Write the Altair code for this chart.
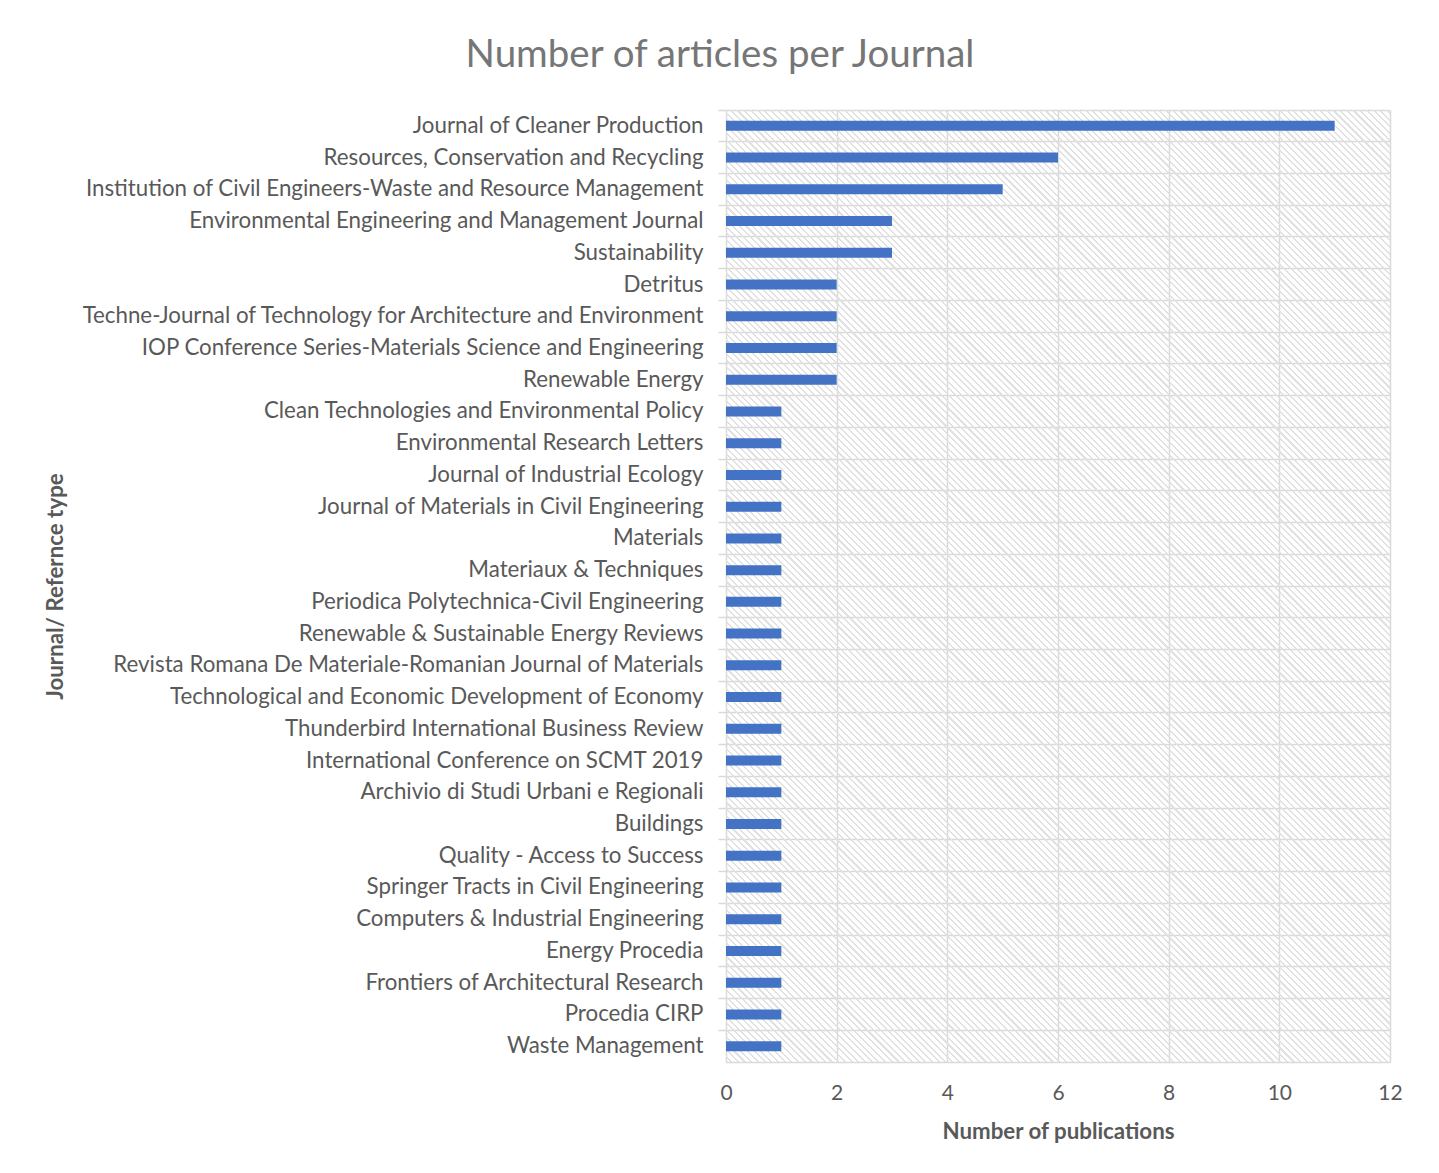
import altair as alt
import pandas as pd

journals = [
    "Journal of Cleaner Production",
    "Resources, Conservation and Recycling",
    "Institution of Civil Engineers-Waste and Resource Management",
    "Environmental Engineering and Management Journal",
    "Sustainability",
    "Detritus",
    "Techne-Journal of Technology for Architecture and Environment",
    "IOP Conference Series-Materials Science and Engineering",
    "Renewable Energy",
    "Clean Technologies and Environmental Policy",
    "Environmental Research Letters",
    "Journal of Industrial Ecology",
    "Journal of Materials in Civil Engineering",
    "Materials",
    "Materiaux & Techniques",
    "Periodica Polytechnica-Civil Engineering",
    "Renewable & Sustainable Energy Reviews",
    "Revista Romana De Materiale-Romanian Journal of Materials",
    "Technological and Economic Development of Economy",
    "Thunderbird International Business Review",
    "International Conference on SCMT 2019",
    "Archivio di Studi Urbani e Regionali",
    "Buildings",
    "Quality - Access to Success",
    "Springer Tracts in Civil Engineering",
    "Computers & Industrial Engineering",
    "Energy Procedia",
    "Frontiers of Architectural Research",
    "Procedia CIRP",
    "Waste Management",
]
publications = [11, 6, 5, 3, 3, 2, 2, 2, 2] + [1] * 21

x_ticks = [0, 2, 4, 6, 8, 10, 12]

df = pd.DataFrame({"journal": journals, "count": publications})

W, H = 664, 952

# diagonal hatch background built as a striped linear gradient
q = H / W
period_t = 0.0033
gray_frac = 0.32
clear = "rgba(255,255,255,0)"
hatch_col = "#e1e1e1"
stops = []
k = 0
while True:
    a = k * period_t
    if a >= 1:
        break
    b = min(1.0, a + period_t * (1 - gray_frac))
    c = min(1.0, a + period_t)
    stops.append({"offset": round(a, 6), "color": clear})
    stops.append({"offset": round(b, 6), "color": clear})
    stops.append({"offset": round(b, 6), "color": hatch_col})
    stops.append({"offset": round(c, 6), "color": hatch_col})
    k += 1

hatch = {"gradient": "linear", "x1": 0, "y1": 1, "x2": 1, "y2": 1 - q, "stops": stops}

grid_col = "#d9d9d9"
text_col = "#595959"

x_enc = alt.X(
    "count:Q",
    scale=alt.Scale(domain=[0, 12], nice=False),
    axis=alt.Axis(
        values=x_ticks,
        format="d",
        title="Number of publications",
        ticks=False,
        grid=True,
        gridColor=grid_col,
        gridWidth=1.5,
        domainColor=grid_col,
        domainWidth=1.5,
        labelFlush=False,
        labelPadding=20,
        labelFontSize=21,
        labelColor=text_col,
        titleFontSize=22.3,
        titleColor=text_col,
        titleFontWeight="bold",
        titlePadding=17,
    ),
)

y_enc = alt.Y(
    "journal:N",
    sort=journals,
    scale=alt.Scale(paddingInner=0, paddingOuter=0),
    axis=alt.Axis(
        title="Journal/ Refernce type",
        bandPosition=0,
        grid=True,
        gridColor=grid_col,
        gridWidth=1.5,
        ticks=True,
        tickSize=8,
        tickColor=grid_col,
        tickWidth=1.5,
        domain=False,
        labelPadding=15,
        labelFontSize=22.3,
        labelLimit=0,
        labelColor=text_col,
        labelBaseline="middle",
        titleFontSize=22.3,
        titleColor=text_col,
        titleFontWeight="bold",
        titleAngle=270,
        titleX=-671,
        titleY=H / 2,
        titleBaseline="middle",
        titleAlign="center",
    ),
)

background = (
    alt.Chart(df)
    .mark_rect(color=hatch)
    .encode(
        x=alt.datum(0, scale=alt.Scale(domain=[0, 12], nice=False)),
        x2=alt.datum(12),
        y=alt.value(0),
        y2=alt.value("height"),
    )
)

bars = (
    alt.Chart(df)
    .mark_bar(size=10, color="#4472C4")
    .encode(x=x_enc, y=y_enc)
)

chart = (
    alt.layer(background, bars)
    .properties(
        width=W,
        height=H,
        title=alt.TitleParams(
            "Number of articles per Journal",
            fontSize=38.5,
            fontWeight="normal",
            color="#767676",
            anchor="middle",
            frame="group",
            dx=-338,
            offset=34,
        ),
        autosize=alt.AutoSizeParams(type="none"),
        padding={"left": 726, "top": 110, "right": 49, "bottom": 111},
    )
    .configure(font="Lato")
    .configure_view(stroke=None)
)

chart.save("out.html", embed_options={"renderer": "svg", "actions": False})
